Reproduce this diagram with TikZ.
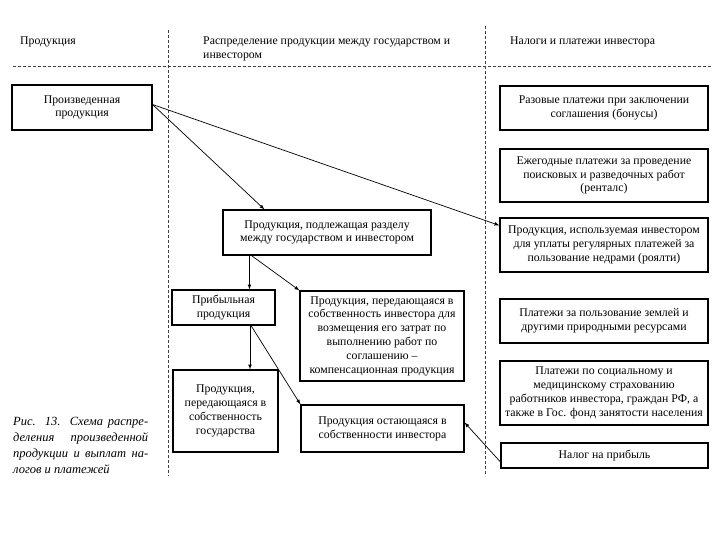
\documentclass[tikz,border=0pt]{standalone}
\usepackage{fontspec}
\setmainfont{Liberation Serif}
\begin{document}
\begin{tikzpicture}[
        x=1pt, y=-1pt, % координаты в пикселях, ось y вниз
        cell/.style={draw, line width=1.1pt, align=center, inner sep=1pt,
            font=\fontsize{11.8}{13.8}\selectfont}, % Стиль блоков
        strelka/.style={draw, line width=0.7pt, -latex}, % Стиль стрелок
        razdel/.style={densely dashed, line width=0.6pt, black!75},
        zagolovok/.style={anchor=north west, align=left, inner sep=0pt,
            font=\fontsize{11.8}{13.5}\selectfont},
    ]
    \useasboundingbox (0,0) rectangle (720,540);

    % Разделительные линии
    \draw[razdel] (13,66) -- (711,66);
    \draw[razdel] (168,30) -- (168,476);
    \draw[razdel] (485,26) -- (485,476);

    % Заголовки колонок
    \node[zagolovok] (h1) at (20,37) {Продукция};
    \node[zagolovok] (h2) at (203,37) {Распределение продукции между государством и\\инвестором};
    \node[zagolovok] (h3) at (510,37) {Налоги и платежи инвестора};

    % Левая колонка
    \node[cell, minimum width=140pt, minimum height=45pt] (proizv) at (82,107.5) {Произведенная\\продукция};

    % Средняя колонка
    \node[cell, minimum width=208pt, minimum height=45pt] (podrazdel) at (327,232.5) {Продукция, подлежащая разделу\\между государством и инвестором};
    \node[cell, minimum width=103pt, minimum height=35pt] (pribyl) at (223.5,307.5) {Прибыльная\\продукция};
    \node[cell, minimum width=164pt, minimum height=90pt] (kompens) at (382,336) {Продукция, передающаяся в\\собственность инвестора для\\возмещения его затрат по\\выполнению работ по\\соглашению --\\компенсационная продукция};
    \node[cell, minimum width=105pt, minimum height=82pt] (gosud) at (225.5,411) {Продукция,\\передающаяся в\\собственность\\государства};
    \node[cell, minimum width=163pt, minimum height=47pt] (ostaet) at (382.5,428.5) {Продукция остающаяся в\\собственности инвестора};

    % Правая колонка
    \node[cell, minimum width=208pt, minimum height=44pt] (bonus) at (604,108) {Разовые платежи при заключении\\соглашения (бонусы)};
    \node[cell, minimum width=208pt, minimum height=53pt] (rental) at (604,175.5) {Ежегодные платежи за проведение\\поисковых и разведочных работ\\(ренталс)};
    \node[cell, minimum width=208pt, minimum height=54pt] (royalti) at (604,245) {Продукция, используемая инвестором\\для уплаты регулярных платежей за\\пользование недрами (роялти)};
    \node[cell, minimum width=208pt, minimum height=44pt] (zemlya) at (604,321) {Платежи за пользование землей и\\другими природными ресурсами};
    \node[cell, minimum width=208pt, minimum height=64pt] (strah) at (604,393) {Платежи по социальному и\\медицинскому страхованию\\работников инвестора, граждан РФ, а\\также в Гос. фонд занятости населения};
    \node[cell, minimum width=207pt, minimum height=25pt] (nalog) at (604.5,455.5) {Налог на прибыль};

    % Подпись
    \node[anchor=north west, text width=135pt, align=justify, inner sep=0pt,
        font=\fontsize{12.5}{16}\selectfont\itshape] (podpis) at (13,417)
        {Рис. 13. Схема распре-\linebreak деления произведенной\linebreak продукции и выплат на-\linebreak логов и платежей\par};

    % Стрелки
    \draw[strelka] ([yshift=3pt]proizv.east) -- ([xshift=42pt]podrazdel.north west);
    \draw[strelka] ([yshift=3pt]proizv.east) -- ([yshift=-8pt]royalti.north west);
    \draw[strelka] ([xshift=27pt]podrazdel.south west) coordinate (r1) -- (r1 |- pribyl.north);
    \draw[strelka] ([xshift=29pt]podrazdel.south west) -- (kompens.north west);
    \draw[strelka] ([xshift=26.5pt]pribyl.south) coordinate (r2) -- (r2 |- gosud.north);
    \draw[strelka] ([xshift=27.5pt]pribyl.south) -- (ostaet.north west);
    \draw[strelka] ([yshift=-6.5pt]nalog.west) -- ([yshift=6pt]ostaet.east);
\end{tikzpicture}
\end{document}
